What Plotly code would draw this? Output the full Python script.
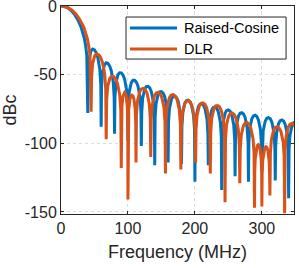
import plotly.graph_objects as go

# Raised-Cosine spectrum: (frequency MHz, dBc)
rc_points = [
    (0, 0), (5, -0.4), (10, -1.4), (15, -3.3), (20, -6), (25, -9.9), (30, -15.4), (33, -20), (35, -24), (37, -29.5), (38.5, -36),
    (40, -78), (40.6, -47.8), (42, -38.2), (45, -32.5), (47.4, -31.4), (50, -32), (52.6, -34), (55, -37.5), (58, -46.2), (59.4, -57.2),
    (60, -88), (60.6, -58.3), (62, -48.6), (65, -42.7), (67.4, -41.4), (70, -41.8), (72.6, -43.6), (75, -46.9), (78, -55.4), (79.4, -66.3),
    (80, -93), (80.6, -66.3), (82, -56.4), (85, -50.1), (87.4, -48.6), (90, -48.7), (92.6, -50.2), (95, -53.3), (98, -61.4), (99.4, -72.1),
    (100, -98), (100.6, -72.2), (102, -62.3), (105, -55.8), (107.4, -54.1), (110, -54.1), (112.6, -55.5), (115, -58.4), (118, -66.3), (119.4, -77),
    (120, -102), (120.6, -77.1), (122, -67.1), (125, -60.5), (127.4, -58.7), (130, -58.5), (132.6, -59.7), (135, -62.5), (138, -70.3), (139.4, -80.9),
    (140, -116), (140.6, -81.2), (142, -71.1), (145, -64.4), (147.4, -62.5), (150, -62.3), (152.6, -63.5), (155, -66.2), (158, -73.9), (159.4, -84.4),
    (160, -114), (160.6, -84.6), (162, -74.6), (165, -67.8), (167.4, -65.9), (170, -65.6), (172.6, -66.7), (175, -69.4), (178, -77), (179.4, -87.6),
    (180, -115), (180.6, -87.7), (182, -77.6), (185, -70.8), (187.4, -68.8), (190, -68.5), (192.6, -69.6), (195, -72.2), (198, -79.8), (199.4, -90.3),
    (200, -128), (200.6, -90.4), (202, -80.3), (205, -73.5), (207.4, -71.5), (210, -71.1), (212.6, -72.1), (215, -74.7), (218, -82.3), (219.4, -92.8),
    (220, -116), (220.6, -92.9), (222, -82.8), (225, -75.9), (227.4, -73.9), (230, -73.5), (232.6, -74.5), (235, -77.1), (238, -84.6), (239.4, -95.1),
    (240, -134), (240.6, -95.2), (242, -85.1), (245, -78.2), (247.4, -76.1), (250, -75.7), (252.6, -76.7), (255, -79.2), (258, -86.7), (259.4, -97.2),
    (260, -124), (260.6, -97.3), (262, -87.1), (265, -80.2), (267.4, -78.1), (270, -77.7), (272.6, -78.7), (275, -81.2), (278, -88.7), (279.4, -99.1),
    (280, -128), (280.6, -99.3), (282, -89.1), (285, -82.1), (287.4, -80.1), (290, -79.6), (292.6, -80.5), (295, -83.1), (298, -90.5), (299.4, -100.9),
    (300, -120), (300.6, -101), (302, -90.8), (305, -83.9), (307.4, -81.8), (310, -81.3), (312.6, -82.2), (315, -84.7), (318, -92.2), (319.4, -102.6),
    (320, -127), (320.6, -102.7), (322, -92.6), (325, -85.6), (327.4, -83.5), (330, -83), (332.6, -83.9), (335, -86.4), (338, -93.8), (339.4, -104.3),
    (340, -140), (340.6, -104.3), (342, -94.1), (345, -87.1), (347.4, -85), (350, -84.5),
]

# DLR spectrum: (frequency MHz, dBc)
dlr_points = [
    (0, 0), (5.6, -0.4), (11.2, -1.4), (17, -3.3), (22.5, -6), (28, -9.9), (34, -15.4), (37, -20), (39.4, -24), (41.6, -29.5), (43.3, -36),
    (45, -77), (45.7, -51.3), (47.3, -41.7), (50.6, -36), (53.3, -34.9), (56.3, -35.5), (59.2, -37.5), (61.9, -41), (65.3, -49.7), (66.8, -60.7),
    (67.5, -97), (68.2, -68.2), (69.8, -58.5), (73.1, -52.5), (75.8, -51.2), (78.8, -51.5), (81.7, -53.2), (84.4, -56.5), (87.8, -64.9), (89.3, -75.8),
    (90, -118), (90.3, -83.5), (91, -73.2), (92.5, -66), (93.7, -63.7), (95, -63), (96.3, -63.7), (97.5, -66), (99, -73.2), (99.7, -83.5),
    (100, -141), (100.4, -85.5), (101.2, -75.2), (103, -68), (104.4, -65.7), (106, -65), (107.6, -65.7), (109, -68), (110.8, -75.2), (111.6, -85.5),
    (112, -114), (112.7, -79.6), (114.2, -69.4), (117.5, -62.5), (120.1, -60.4), (123, -60), (125.9, -61), (128.5, -63.5), (131.8, -71), (133.3, -81.4),
    (134, -110), (134.7, -82.6), (136.2, -72.4), (139.5, -65.5), (142.1, -63.4), (145, -63), (147.9, -64), (150.5, -66.5), (153.8, -74), (155.3, -84.4),
    (156, -122), (156.7, -83.8), (158.3, -73.7), (161.8, -66.9), (164.5, -64.9), (167.5, -64.5), (170.5, -65.5), (173.3, -68.1), (176.7, -75.7), (178.3, -86.2),
    (179, -119), (179.7, -88.3), (181.2, -78.2), (184.5, -71.4), (187.1, -69.4), (190, -69), (192.9, -70), (195.5, -72.6), (198.8, -80.2), (200.3, -90.7),
    (201, -114), (201.7, -90.1), (203.2, -79.9), (206.5, -73), (209.1, -70.9), (212, -70.5), (214.9, -71.5), (217.5, -74), (220.8, -81.5), (222.3, -91.9),
    (223, -122), (223.7, -91.6), (225.2, -81.5), (228.5, -74.7), (231.1, -72.8), (234, -72.5), (236.9, -73.6), (239.5, -76.3), (242.8, -83.9), (244.3, -94.4),
    (245, -143), (245.7, -96.6), (247.2, -86.6), (250.5, -80), (253.1, -78.2), (256, -78), (258.9, -79.2), (261.5, -82), (264.8, -89.8), (266.3, -100.4),
    (267, -129), (267.7, -104.1), (269.2, -94), (272.5, -87.2), (275.1, -85.3), (278, -85), (280.9, -86.1), (283.5, -88.8), (286.8, -96.4), (288.3, -106.9),
    (289, -147), (289.3, -121.5), (290.1, -111.2), (291.8, -104), (293.1, -101.7), (294.5, -101), (295.9, -101.7), (297.3, -104), (298.9, -111.2), (299.7, -121.5),
    (300, -146), (300.4, -123), (301.2, -112.7), (303, -105.5), (304.4, -103.2), (306, -102.5), (307.6, -103.2), (309, -105.5), (310.8, -112.7), (311.6, -123),
    (312, -138), (312.7, -107.6), (314.2, -97.4), (317.5, -90.5), (320.1, -88.4), (323, -88), (325.9, -89), (328.5, -91.5), (331.8, -99), (333.3, -109.4),
    (334, -151), (334.7, -105.5), (336.2, -95.3), (339.5, -88.2), (342.1, -86.1), (345, -85.5), (347.9, -86.3), (350.5, -88.6),
]

rc_freq = [p[0] for p in rc_points]
rc_dbc = [p[1] for p in rc_points]
dlr_freq = [p[0] for p in dlr_points]
dlr_dbc = [p[1] for p in dlr_points]

x_ticks = [0, 100, 200, 300]
y_ticks = [0, -50, -100, -150]
series_names = ["Raised-Cosine", "DLR"]
colors = ["#0072BD", "#D95319"]

fig = go.Figure()
fig.add_trace(go.Scatter(x=rc_freq, y=rc_dbc, mode="lines", name=series_names[0],
                         line=dict(color=colors[0], width=3), showlegend=False))
fig.add_trace(go.Scatter(x=dlr_freq, y=dlr_dbc, mode="lines", name=series_names[1],
                         line=dict(color=colors[1], width=3), showlegend=False))

axis_color = "#262626"
grid_color = "#dcdcdc"
font_family = "Liberation Sans, Arial, Helvetica, sans-serif"

fig.update_xaxes(range=[0, 348], tickvals=x_ticks, ticktext=[str(v) for v in x_ticks],
                 ticks="inside", ticklen=3, tickcolor=axis_color, mirror="ticks",
                 showline=True, linecolor=axis_color, linewidth=1, automargin=False,
                 ticklabeloverflow="allow",
                 showgrid=True, gridcolor=grid_color, griddash="dot", gridwidth=1,
                 zeroline=False, tickfont=dict(size=16, color=axis_color),
                 title=dict(text="Frequency (MHz)", font=dict(size=18, color=axis_color), standoff=9))
fig.update_yaxes(range=[-151.5, 0], tickvals=y_ticks, ticktext=[str(v) for v in y_ticks],
                 ticks="inside", ticklen=3, tickcolor=axis_color, mirror="ticks",
                 showline=True, linecolor=axis_color, linewidth=1, automargin=False,
                 ticklabeloverflow="allow",
                 showgrid=True, gridcolor=grid_color, griddash="dot", gridwidth=1,
                 zeroline=False, tickfont=dict(size=16, color=axis_color),
                 title=dict(text="dBc", font=dict(size=18, color=axis_color), standoff=8))

# legend box drawn in paper coordinates
fig.add_shape(type="rect", xref="paper", yref="paper", x0=0.279, x1=0.966, y0=0.745, y1=0.947,
              line=dict(color=axis_color, width=1), fillcolor="white", layer="above")
legend_y = [0.894, 0.793]
for name, col, ly in zip(series_names, colors, legend_y):
    fig.add_shape(type="line", xref="paper", yref="paper", x0=0.296, x1=0.498, y0=ly, y1=ly,
                  line=dict(color=col, width=3), layer="above")
    fig.add_annotation(xref="paper", yref="paper", x=0.519, y=ly, text=name, showarrow=False,
                       xanchor="left", yanchor="middle", font=dict(size=14.5, color="#000000"))

fig.update_layout(width=299, height=268, margin=dict(l=61, r=5, t=6, b=54),
                  plot_bgcolor="white", paper_bgcolor="white",
                  font=dict(family=font_family))
fig.write_html("out.html", config={"displayModeBar": False},
               post_script="document.body.style.margin='0';")
